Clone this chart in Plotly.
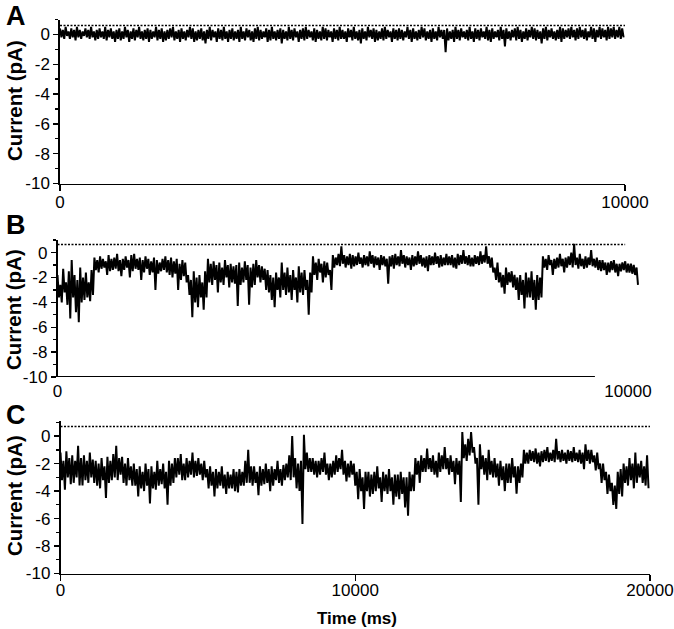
import plotly.graph_objects as go

# ---------------- data ----------------
A_END_MS = 10000
B_END_MS = 10200
C_END_MS = 20000

A_REF_PA = 0.6
B_REF_PA = 0.65
C_REF_PA = 0.7
B_REF_END_MS = 9950
B_AXIS_END_MS = 9420

# upper / lower excursion of the current in consecutive time bins (pA)
A_hi = [
    0.4, 0.3, 0.5, 0.2, 0.4, 0.3, 0.5, 0.3, 0.2, 0.4, 0.3, 0.5, 0.2, 0.3, 0.4, 0.2, 0.5, 0.3, 0.4, 0.2,
    0.3, 0.4, 0.2, 0.5, 0.3, 0.2, 0.4, 0.3, 0.5, 0.2, 0.3, 0.4, 0.3, 0.2, 0.5, 0.3, 0.4, 0.2, 0.3, 0.4,
    0.5, 0.2, 0.3, 0.4, 0.2, 0.3, 0.5, 0.4, 0.2, 0.3, 0.4, 0.2, 0.3, 0.5, 0.3, 0.2, 0.4, 0.3, 0.5, 0.2,
    0.3, 0.4, 0.2, 0.3, 0.5, 0.2, 0.4, 0.3, 0.2, 0.4, 0.5, 0.3, 0.2, 0.4, 0.3, 0.5, 0.2, 0.3, 0.4, 0.3,
    0.2, 0.5, 0.3, 0.4, 0.2, 0.3, 0.4, 0.5, 0.3, 0.2, 0.4, 0.3, 0.2, 0.5, 0.4, 0.3, 0.2, 0.4, 0.3, 0.5,
    0.3, 0.2, 0.4, 0.3, 0.5, 0.2, 0.3, 0.4, 0.2, 0.5, 0.3, 0.4, 0.3, 0.2, 0.4, 0.5, 0.3, 0.2, 0.4, 0.3,
    0.4, 0.3, 0.2, 0.5, 0.3, 0.4, 0.2, 0.3, 0.5, 0.4, 0.2, 0.3, 0.4, 0.2, 0.5, 0.3, 0.3, 0.4, 0.2, 0.3,
    0.5, 0.3, 0.4, 0.2, 0.3, 0.5, 0.2, 0.4, 0.3, 0.4, 0.2, 0.5, 0.3, 0.4, 0.2, 0.3, 0.5, 0.3, 0.4, 0.2,
    0.3, 0.4, 0.5, 0.3, 0.2, 0.4, 0.3, 0.5, 0.4, 0.3, 0.2, 0.4, 0.5, 0.3, 0.4, 0.2, 0.3, 0.5, 0.4, 0.3,
    0.4, 0.5, 0.3, 0.4, 0.5, 0.3, 0.4, 0.2, 0.5, 0.4, 0.3, 0.5, 0.4, 0.3, 0.5, 0.4, 0.5, 0.3, 0.5, 0.4,
]
A_lo = [
    -0.2, -0.3, -0.1, -0.3, -0.2, -0.4, -0.2, -0.3, -0.1, -0.2, -0.3, -0.2, -0.4, -0.3, -0.2, -0.3, -0.4, -0.2, -0.3, -0.5,
    -0.3, -0.4, -0.3, -0.2, -0.5, -0.3, -0.4, -0.2, -0.3, -0.4, -0.3, -0.5, -0.3, -0.2, -0.4, -0.3, -0.5, -0.4, -0.3, -0.2,
    -0.4, -0.3, -0.5, -0.3, -0.4, -0.2, -0.3, -0.5, -0.4, -0.3, -0.4, -0.6, -0.3, -0.4, -0.2, -0.5, -0.3, -0.4, -0.3, -0.5,
    -0.3, -0.4, -0.3, -0.5, -0.3, -0.4, -0.2, -0.4, -0.5, -0.3, -0.4, -0.3, -0.2, -0.5, -0.4, -0.3, -0.4, -0.3, -0.6, -0.3,
    -0.4, -0.3, -0.4, -0.2, -0.5, -0.3, -0.4, -0.3, -0.2, -0.4, -0.5, -0.3, -0.4, -0.3, -0.4, -0.2, -0.5, -0.3, -0.4, -0.3,
    -0.3, -0.5, -0.2, -0.4, -0.3, -0.4, -0.6, -0.3, -0.4, -0.2, -0.3, -0.5, -0.4, -0.3, -0.4, -0.3, -0.2, -0.5, -0.3, -0.4,
    -0.3, -0.4, -0.2, -0.3, -0.5, -0.3, -0.4, -0.3, -0.2, -0.4, -0.3, -0.5, -0.3, -0.4, -0.2, -0.3, -1.2, -0.4, -0.3, -0.5,
    -0.3, -0.4, -0.2, -0.3, -0.4, -0.3, -0.5, -0.3, -0.4, -0.2, -0.3, -0.4, -0.5, -0.3, -0.2, -0.4, -0.3, -0.8, -0.3, -0.4,
    -0.2, -0.4, -0.3, -0.5, -0.3, -0.4, -0.2, -0.3, -0.4, -0.3, -0.6, -0.3, -0.4, -0.2, -0.3, -0.4, -0.3, -0.5, -0.3, -0.2,
    -0.3, -0.2, -0.4, -0.3, -0.2, -0.3, -0.4, -0.2, -0.3, -0.5, -0.2, -0.3, -0.2, -0.4, -0.3, -0.2, -0.3, -0.2, -0.3, -0.2,
]

B_hi = [
    -1.8, -2.6, -1.3, -2.4, -1.5, -0.6, -1.8, -2.2, -1.2, -2.0, -1.6, -2.4, -1.4,
    -0.4, -0.6, -0.3, -0.5, -0.7, -0.2, -0.5, -0.4, -0.1, -0.6, -0.5, -0.3, -0.6, -0.2, -0.1, -0.5,
    -0.4, -0.6, -0.3, -0.5, -0.7, -0.4, -0.6, -0.8, -0.5, -0.3, -0.6, -0.4, -0.7, -0.5, -0.9, -0.6, -0.8,
    -1.8, -2.2, -1.5, -2.0, -1.8, -2.4, -1.5,
    -0.5, -0.9, -0.7, -1.0, -0.8, -1.2, -0.6, -1.0, -0.9, -1.1, -1.0, -0.8, -1.2, -0.7, -1.0, -1.2,
    -0.9, -0.6, -1.0, -1.1, -1.3,
    -1.4, -1.8, -2.0, -1.6, -2.0, -0.8, -1.6, -1.2, -1.8, -1.4, -2.0, -1.1, -1.6, -1.4, -2.2, -1.6,
    -0.3, -0.8, -0.5, -0.9, -0.7, -0.8, -1.4,
    -0.2, -0.4, -0.1, 0.5, -0.2, -0.3, -0.1, -0.2, -0.3, 0.0,
    -0.4, -0.2, -0.3, 0.1, -0.2, -0.3, -0.4, -0.2, -0.3, -0.5,
    -0.3, -0.2, -0.1, -0.3, 0.2, -0.2, -0.3, -0.4, -0.2, -0.3,
    0.1, -0.2, -0.4, -0.3, -0.2, -0.3, 0.0, -0.3, -0.2, -0.4,
    -0.1, -0.3, -0.2, -0.4, -0.1, -0.2, 0.2, -0.3, -0.2, -0.4,
    -0.2, -0.3, 0.1, -0.2, 0.5, -0.3,
    -0.4, -1.2, -0.8, -1.6, -1.8, -1.2, -1.6, -1.5, -1.8,
    -2.0, -1.8, -2.2, -1.6, -2.0, -1.5, -2.2, -1.8, -2.0,
    -0.3, -0.5, -0.2, -0.6, -0.5, -0.4, -0.1, -0.5, -0.4, -0.3,
    0.0, 0.7, -0.4, -0.1, -0.5, -0.3, -0.4, 0.2, -0.5, -0.4,
    -0.6, -0.6, -0.8, -0.8, -0.7, -0.6, -0.9, -0.9, -0.8, -0.7,
    -0.9, -0.9, -1.0, -1.2,
]
B_lo = [
    -3.6, -4.0, -3.2, -4.2, -5.3, -3.6, -4.8, -5.6, -4.0, -3.8, -3.6, -3.9, -3.4,
    -1.4, -1.6, -1.3, -1.2, -1.8, -1.5, -1.4, -1.3, -1.5, -1.9, -1.4, -1.2, -2.0, -1.5, -1.3, -1.4,
    -2.2, -1.6, -1.3, -1.8, -1.6, -3.0, -1.7, -1.5, -1.4, -1.6, -1.8, -2.0, -1.7, -3.0, -2.2, -1.9, -2.4,
    -3.4, -5.2, -4.0, -4.4, -3.6, -4.6, -3.6,
    -2.4, -2.6, -2.2, -3.2, -2.4, -2.6, -2.0, -2.8, -2.4, -2.5, -4.3, -2.6, -2.4, -2.2, -4.2, -2.8,
    -2.6, -2.0, -2.4, -2.2, -3.0,
    -3.2, -3.8, -4.4, -3.0, -3.6, -3.0, -3.4, -3.2, -3.8, -3.0, -4.0, -3.2, -3.4, -3.0, -5.0, -3.2,
    -1.8, -2.2, -1.6, -2.4, -2.0, -1.8, -3.0,
    -1.2, -1.0, -1.1, -0.9, -1.2, -1.0, -1.3, -1.1, -1.0, -0.9,
    -1.2, -1.0, -1.1, -0.9, -1.2, -1.0, -1.4, -1.0, -1.1, -2.5,
    -1.1, -1.3, -1.0, -1.1, -0.9, -1.2, -1.0, -1.4, -1.1, -1.0,
    -0.9, -1.1, -1.2, -1.5, -1.0, -1.0, -0.9, -1.2, -1.1, -1.0,
    -1.0, -1.0, -1.2, -1.3, -1.0, -0.9, -0.9, -1.0, -1.1, -1.1,
    -0.9, -1.0, -0.9, -0.8, -0.9, -1.2,
    -1.6, -2.2, -2.4, -2.8, -3.3, -2.6, -2.4, -2.8, -3.0,
    -3.8, -3.4, -4.5, -3.6, -3.6, -3.8, -4.6, -3.8, -3.6,
    -1.2, -1.4, -1.0, -1.8, -1.3, -1.2, -1.1, -1.6, -1.2, -1.0,
    -1.2, -1.0, -1.3, -1.1, -1.3, -1.2, -1.0, -1.1, -1.2, -1.4,
    -1.5, -1.4, -1.8, -1.6, -1.4, -1.6, -1.9, -1.5, -1.4, -1.6,
    -1.6, -1.7, -1.8, -2.6,
]

C_hi = [
    -1.2, -1.8, -1.1, -1.6, -1.4, -1.8, -0.7, -1.6, -1.4, -1.8,
    -1.2, -1.7, -1.8, -2.0, -1.6, -2.2, -1.5, -1.8, -1.3, -0.7,
    -1.6, -1.5, -2.0, -1.6, -2.2, -2.0, -2.4, -2.2, -2.6, -2.0,
    -2.4, -2.2, -2.6, -1.8, -2.4, -2.0, -2.6, -1.8, -2.0, -1.6,
    -1.6, -1.3, -2.0, -1.6, -1.8, -1.2, -1.8, -1.6, -2.0, -1.8,
    -2.4, -2.2, -2.6, -2.4, -2.6, -2.2, -2.8, -2.6, -2.8, -2.4,
    -2.6, -2.4, -2.6, -1.8, -1.0, -2.2, -2.2, -2.6, -2.2, -2.4,
    -2.0, -2.4, -2.2, -2.4, -1.8, -2.4, -2.1, -2.0, -1.4,
    0.0, -1.6, -2.0, -1.8, 0.1, -1.2,
    -1.6, -1.6, -1.8, -1.8, -1.6, -1.2, -2.0, -2.0, -1.8, -1.4, -1.6, -1.0, -1.8, -2.0, -1.8,
    -2.0, -2.6, -2.4, -3.0, -2.6, -2.6, -2.8, -2.6, -2.2, -3.0, -2.6,
    -2.8, -2.4, -3.0, -2.8, -2.8, -2.6, -3.0, -3.0, -2.6, -2.8,
    -1.6, -1.8, -1.4, -1.6, -0.9, -1.6, -1.4, -1.8, -1.2, -1.4, -0.8, -1.6, -1.4, -1.8,
    -1.6, -1.8, 0.3, -0.6, -0.2, 0.3, -0.8, -1.6, -0.6,
    -1.4, -1.6, -1.0, -1.8, -1.6, -2.0, -1.8, -2.2, -2.0, -2.0, -1.6, -2.2, -2.2, -2.0,
    -1.0, -1.2, -1.0, -1.1, -0.9, -1.2, -1.1, -1.0, -0.8, -1.2,
    -1.0, -0.2, -1.1, -1.0, -1.2, -1.0, -1.1, -0.8, -1.2, -1.0,
    -1.2, -0.6, -1.0, -1.0, -1.4, -1.2,
    -2.0, -2.0, -2.6, -2.8, -3.4, -3.6, -2.6,
    -2.4, -2.0, -2.2, -1.6, -2.0, -1.2, -2.0, -1.8, -2.2, -1.4,
]
C_lo = [
    -3.2, -3.9, -3.0, -3.5, -3.4, -3.0, -3.6, -3.6, -3.2, -3.4,
    -3.0, -3.4, -3.6, -3.8, -3.2, -4.5, -3.4, -3.2, -3.0, -3.2,
    -2.8, -3.4, -3.6, -3.2, -3.6, -3.6, -4.4, -3.8, -4.0, -3.6,
    -4.9, -3.8, -3.9, -3.6, -3.5, -3.8, -5.0, -3.6, -3.4, -3.0,
    -2.8, -3.2, -3.2, -3.0, -2.8, -3.0, -2.9, -2.8, -3.2, -3.0,
    -3.8, -3.6, -4.4, -3.8, -3.6, -3.8, -4.2, -3.8, -3.8, -4.0,
    -4.1, -3.6, -3.6, -3.4, -3.4, -3.6, -3.4, -4.3, -3.6, -3.5,
    -3.4, -4.0, -3.6, -3.2, -3.4, -3.6, -3.2, -3.0, -3.2,
    -3.0, -3.8, -4.0, -6.4, -2.4, -2.6,
    -2.6, -2.8, -3.0, -2.8, -2.6, -2.8, -3.2, -3.0, -2.8, -2.6, -2.4, -2.8, -3.3, -3.0, -2.8,
    -3.6, -4.6, -4.0, -5.3, -4.0, -4.4, -4.2, -4.0, -3.8, -4.8, -4.0,
    -4.2, -4.0, -5.0, -4.4, -4.6, -4.2, -5.2, -5.8, -4.0, -4.0,
    -2.8, -3.4, -2.6, -2.6, -2.4, -2.6, -2.8, -3.0, -2.6, -2.4, -2.4, -2.8, -2.6, -3.5,
    -2.8, -4.8, -1.6, -1.8, -1.4, -1.2, -2.0, -5.0, -2.4,
    -2.8, -3.2, -2.8, -3.0, -3.0, -3.6, -3.2, -4.0, -3.4, -3.4, -3.0, -4.2, -3.4, -3.0,
    -2.0, -2.0, -1.8, -1.9, -2.0, -2.2, -1.9, -1.8, -1.9, -1.8,
    -1.9, -1.7, -1.9, -1.8, -2.0, -1.8, -1.9, -1.8, -1.9, -2.0,
    -2.4, -1.8, -2.0, -1.9, -2.5, -2.4,
    -3.4, -3.2, -4.2, -4.0, -5.0, -5.3, -4.2,
    -4.4, -3.4, -3.6, -3.2, -3.8, -3.4, -3.0, -3.4, -3.6, -3.8,
]

Y_TICKS = [-10, -8, -6, -4, -2, 0]
Y_TICK_TEXT = ["-10", "-8", "-6", "-4", "-2", "0"]
A_X_TICKS = [0, 10000]
B_X_TICKS = [0, 10000]
C_X_TICKS = [0, 10000, 20000]

# ---------------- figure ----------------
W, H = 674, 629


def px_x(p):
    return p / W


def px_y(p):
    return 1 - p / H


FONT = "Liberation Sans, Arial, sans-serif"
BLACK = "#000000"


def envelope_path(hi, lo, end_ms):
    """Alternate the upper and lower excursion of each time bin."""
    n = min(len(hi), len(lo))
    step = end_ms / n
    xs, ys = [], []
    for i in range(n):
        xs.extend([i * step, (i + 0.5) * step])
        ys.extend([hi[i], lo[i]])
    return xs, ys


fig = go.Figure()
trace_line = dict(color=BLACK, width=2.0)
ref_line = dict(color=BLACK, width=1.4, dash="2px,1.5px")


def add_panel(hi, lo, end_ms, ref, ref_end, xa, ya):
    xs, ys = envelope_path(hi, lo, end_ms)
    fig.add_trace(go.Scatter(x=xs, y=ys, mode="lines", line=trace_line, xaxis=xa, yaxis=ya,
                             hoverinfo="skip"))
    fig.add_trace(go.Scatter(x=[0, ref_end], y=[ref, ref], mode="lines", line=ref_line,
                             xaxis=xa, yaxis=ya, hoverinfo="skip"))


add_panel(A_hi, A_lo, A_END_MS, A_REF_PA, A_END_MS, "x", "y")
add_panel(B_hi, B_lo, B_END_MS, B_REF_PA, B_REF_END_MS, "x2", "y2")
add_panel(C_hi, C_lo, C_END_MS, C_REF_PA, C_END_MS, "x3", "y3")

tickfont = dict(family=FONT, size=17, color=BLACK)


def yaxis_cfg(dom, top, anchor):
    return dict(
        domain=dom, range=[-10, top], anchor=anchor, automargin=False,
        tickvals=Y_TICKS, ticktext=Y_TICK_TEXT,
        ticks="outside", ticklen=5, tickwidth=1.3, tickcolor=BLACK,
        minor=dict(dtick=1, tick0=0, ticks="outside", ticklen=3, tickwidth=1.3, tickcolor=BLACK),
        showline=True, linecolor=BLACK, linewidth=1.7,
        showgrid=False, zeroline=False, tickfont=tickfont, fixedrange=True,
    )


def xaxis_cfg(dom, rng, ticks, anchor, line=True, tick=True, standoff=0):
    return dict(
        domain=dom, range=rng, anchor=anchor, automargin=False,
        tickvals=ticks, ticktext=[str(v) for v in ticks],
        ticks="outside" if tick else "", ticklen=6, tickwidth=1.3, tickcolor=BLACK,
        ticklabelstandoff=standoff, ticklabeloverflow="allow",
        showline=line, linecolor=BLACK, linewidth=1.7,
        showgrid=False, zeroline=False, tickfont=tickfont, fixedrange=True,
    )


# Panel geometry in page pixels
A_x0, A_x1, A_ytop, A_ybot = 60, 625, 19.5, 183.5
B_x0, B_x10k, B_ytop, B_ybot = 57.5, 628, 239.5, 377
C_x0, C_x1, C_ytop, C_ybot = 60.5, 650, 421, 573.5

B_xmax = 10250
B_x1 = B_x0 + (B_x10k - B_x0) * B_xmax / 10000

fig.update_layout(
    width=W, height=H,
    margin=dict(l=0, r=0, t=0, b=0, autoexpand=False),
    paper_bgcolor="white", plot_bgcolor="white",
    showlegend=False, hovermode=False,
    xaxis=xaxis_cfg([px_x(A_x0), px_x(A_x1)], [0, A_END_MS], A_X_TICKS, "y", standoff=-4),
    yaxis=yaxis_cfg([px_y(A_ybot), px_y(A_ytop)], 1.0, "x"),
    xaxis2=xaxis_cfg([px_x(B_x0), px_x(B_x1)], [0, B_xmax], B_X_TICKS, "y2", line=False, tick=False,
                     standoff=2),
    yaxis2=yaxis_cfg([px_y(B_ybot), px_y(B_ytop)], 1.05, "x2"),
    xaxis3=xaxis_cfg([px_x(C_x0), px_x(C_x1)], [0, C_END_MS], C_X_TICKS, "y3", standoff=-6),
    yaxis3=yaxis_cfg([px_y(C_ybot), px_y(C_ytop)], 1.1, "x3"),
)

# partial x axis line for panel B
fig.add_shape(type="line", xref="x2", yref="y2", x0=0, x1=B_AXIS_END_MS, y0=-10, y1=-10,
              line=dict(color=BLACK, width=2))

ann = []
for letter, ly in (("A", 16), ("B", 225), ("C", 415)):
    ann.append(dict(text=f"<b>{letter}</b>", x=px_x(15.5), y=px_y(ly), xref="paper", yref="paper",
                    showarrow=False, xanchor="center", yanchor="middle",
                    font=dict(family=FONT, size=27, color=BLACK)))
for cy in (101, 310, 496):
    ann.append(dict(text="<b>Current (pA)</b>", x=px_x(14), y=px_y(cy), xref="paper", yref="paper",
                    showarrow=False, textangle=-90, xanchor="center", yanchor="middle",
                    font=dict(family=FONT, size=20.5, color=BLACK)))
ann.append(dict(text="<b>Time (ms)</b>", x=px_x(357), y=px_y(618), xref="paper", yref="paper",
                showarrow=False, xanchor="center", yanchor="middle",
                font=dict(family=FONT, size=17, color=BLACK)))
fig.update_layout(annotations=ann)

# remove the browser's default 8px page margin so the figure sits at (0, 0)
fig.write_html("out.html", config={"displayModeBar": False, "staticPlot": True},
               post_script="document.body.style.margin='0px';")
